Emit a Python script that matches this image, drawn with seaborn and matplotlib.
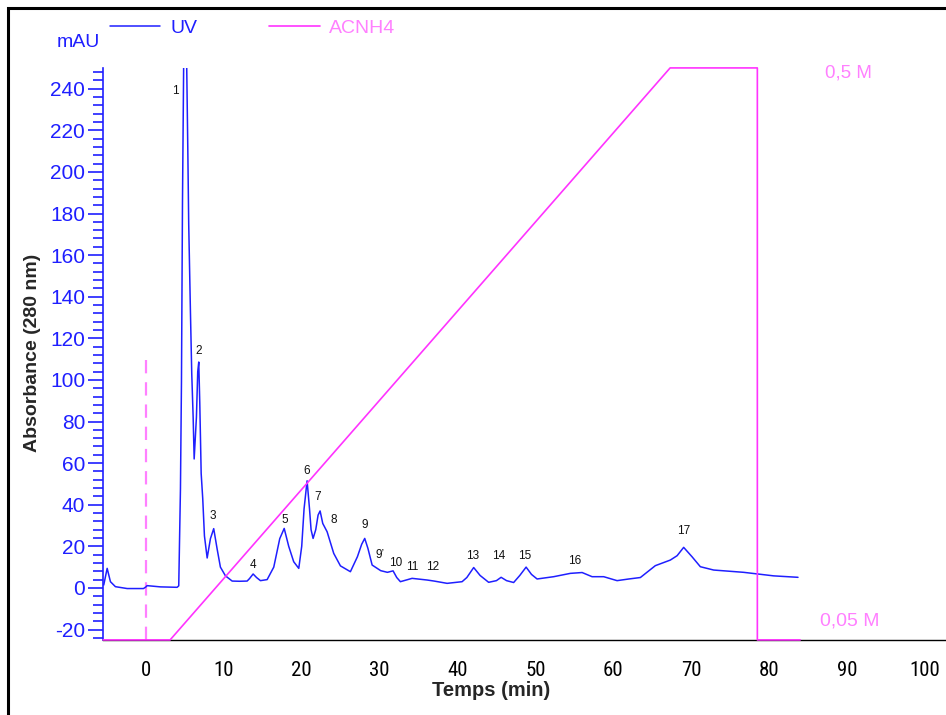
import matplotlib
matplotlib.use("Agg")
import matplotlib.pyplot as plt
import seaborn as sns
import numpy as np
import pandas as pd
from matplotlib.ticker import MultipleLocator
from matplotlib.patches import Rectangle

uv_time = [-5.42, -4.98, -4.56, -3.92, -2.41, -0.32, 0.0, 0.15, 1.86, 4.0, 4.21, 4.43, 4.56, 4.69,
           4.85, 5.0, 5.2, 5.37, 5.49, 5.71, 5.88, 6.06, 6.19, 6.48, 6.65, 6.78, 6.91, 7.09, 7.29,
           7.51, 7.86, 8.28, 8.70, 9.14, 9.56, 10.21, 11.07, 12.0, 12.99, 13.3, 13.76, 14.2, 14.7,
           15.56, 16.41, 17.18, 17.75, 18.33, 18.97, 19.62, 20.0, 20.3, 20.69, 21.0, 21.2, 21.46,
           21.8, 22.1, 22.36, 22.7, 23.26, 24.11, 24.97, 26.25, 27.15, 27.7, 28.09, 28.5, 29.04,
           30.14, 31.0, 31.73, 32.2, 32.67, 34.17, 36.1, 37.0, 38.67, 40.59, 41.2, 42.08, 42.9,
           44.0, 45.0, 45.6, 46.3, 47.21, 48.0, 48.81, 49.5, 50.22, 52.35, 54.49, 56.0, 57.28,
           58.77, 60.49, 62.0, 63.48, 65.4, 67.33, 68.2, 69.04, 70.11, 71.18, 72.89, 76.74, 80.59,
           83.72]
uv_mau = [1.4, 9.4, 3.0, 0.6, -0.3, -0.3, 0.5, 1.1, 0.5, 0.3, 1.0, 47.7, 99.0, 185.0,
          255.0, 300.0, 260.0, 212.0, 175.0, 133.0, 103.0, 82.0, 62.0, 82.0, 104.0, 108.6, 89.0,
          55.0, 43.0, 25.0, 14.4, 23.7, 28.5, 18.7, 10.0, 5.8, 3.3, 3.2, 3.3, 4.5, 6.7, 5.0, 3.5,
          4.0, 10.0, 23.7, 28.6, 20.0, 12.6, 9.4, 20.0, 38.0, 51.5, 38.0, 28.0, 23.8,
          28.0, 35.0, 37.0, 31.0, 27.0, 16.6, 10.6, 7.8, 15.0, 21.0, 23.8, 19.0, 11.0,
          8.3, 7.5, 8.2, 5.0, 3.0, 4.6, 3.8, 3.3, 2.2, 3.0, 5.0, 9.8, 6.0,
          2.7, 3.5, 5.1, 3.5, 2.6, 6.0, 10.0, 6.5, 4.3, 5.4, 7.0, 7.4, 5.4,
          5.4, 3.5, 4.3, 5.0, 10.7, 13.4, 15.5, 19.5, 15.0, 10.2, 8.6, 7.5, 5.8,
          5.1]

# gradient ACNH4 (M)
grad_time = [-5.5, 3.1, 67.3, 78.5, 78.5, 84.0]
grad_conc = [0.05, 0.05, 0.5, 0.5, 0.05, 0.05]

# injection
inject_time = 0
inject_top = 112

# numeros des pics
peak_names = ["1", "2", "3", "4", "5", "6", "7", "8", "9", "9’", "10", "11", "12",
              "13", "14", "15", "16", "17"]
peak_t = [3.8, 6.74, 8.54, 13.8, 17.8, 20.7, 22.1, 24.1, 28.05, 30.1, 32.0, 34.2, 36.8,
          41.9, 45.3, 48.6, 55.1, 69.1]
peak_v = [239, 113.8, 34.6, 11, 32.6, 56.2, 43.7, 32.6, 30.2, 15.8, 12, 10, 10,
          15.4, 15.4, 15.4, 13, 27.4]

blue = "#1f1fff"
pink = "#ff33ff"
light_pink = "#ff80ff"
narrow = ['Roboto Condensed', 'Liberation Sans', 'DejaVu Sans']

sns.set_style("white")
plt.rcParams['font.family'] = ['Liberation Sans', 'DejaVu Sans']
plt.rcParams['axes.unicode_minus'] = False

df = pd.DataFrame({"temps": uv_time, "abs": uv_mau})

fig = plt.figure(figsize=(9.46, 7.15), dpi=100)
ax = fig.add_axes([0.109, 0.105, 0.89, 0.80])

sns.lineplot(data=df, x="temps", y="abs", ax=ax, color=blue, lw=1.1, label="UV", sort=False)

ax.plot([inject_time, inject_time], [-25, inject_top], color=light_pink, lw=1.6,
        dashes=(6, 4), zorder=1)

ax2 = ax.twinx()
ax2.plot(grad_time, grad_conc, color=pink, lw=1.2, clip_on=False, label="ACNH4")
ax2.set_ylim(0.05, 0.5)
ax2.set_yticks([])
for s in ax2.spines.values():
    s.set_visible(False)

ax.set_xlim(-5.5, 102.6)
ax.set_ylim(-25, 250)

for s in ["top", "right"]:
    ax.spines[s].set_visible(False)
ax.spines["left"].set_color(blue)
ax.spines["left"].set_linewidth(1.2)
ax.spines["bottom"].set_color("black")
ax.spines["bottom"].set_linewidth(1.0)

ax.set_yticks(np.arange(-20, 241, 20))
ax.yaxis.set_minor_locator(MultipleLocator(4))
ax.set_xticks(np.arange(0, 101, 10))
ax.xaxis.set_minor_locator(MultipleLocator(1))

ax.tick_params(axis="y", which="major", direction="out", length=11, width=1.2, colors=blue,
               labelsize=15, pad=2)
ax.tick_params(axis="y", which="minor", direction="out", length=7, width=1.2, colors=blue)
ax.tick_params(axis="x", which="major", direction="out", length=13, width=1.2, color="#777777",
               labelcolor="black", labelsize=15, pad=2)
ax.tick_params(axis="x", which="minor", direction="out", length=7, width=0.9, color="black")
for lab in ax.get_xticklabels():
    lab.set_family(narrow)

ax.set_xlabel("")
ax.set_ylabel("")

for name, t, v in zip(peak_names, peak_t, peak_v):
    ax.text(t, v, name, fontsize=8.5, ha="center", va="center", color="#111111")

ax.text(90.2, 247.7, "0,5 M", color=light_pink, fontsize=13.5, ha="center", va="center")
ax.text(90.3, -15.8, "0,05 M", color=light_pink, fontsize=14, ha="center", va="center")
ax.text(-8.7, 262, "mAU", color=blue, fontsize=14, ha="center", va="center")

fig.text(0.034, 0.506, "Absorbance (280 nm)", rotation=90, fontsize=14, fontweight="bold",
         ha="center", va="center")
fig.text(0.519, 0.034, "Temps (min)", fontsize=14.5, fontweight="bold", ha="center", va="center")

# legende en haut
h1, l1 = ax.get_legend_handles_labels()
h2, l2 = ax2.get_legend_handles_labels()
if ax.get_legend() is not None:
    ax.get_legend().remove()
leg = fig.legend(h1 + h2, l1 + l2, loc="center left", bbox_to_anchor=(0.116, 0.961), ncol=2,
                 frameon=False, fontsize=14, handlelength=2.6, handletextpad=0.5,
                 columnspacing=3.7, borderaxespad=0, borderpad=0)
leg.get_texts()[0].set_color(blue)
leg.get_texts()[1].set_color(light_pink)

# cadre
fig.patches.append(Rectangle((0.008, -0.05), 1.1, 1.039, transform=fig.transFigure,
                             fill=False, edgecolor="black", lw=2.2))

fig.savefig("out.png", dpi=100)
